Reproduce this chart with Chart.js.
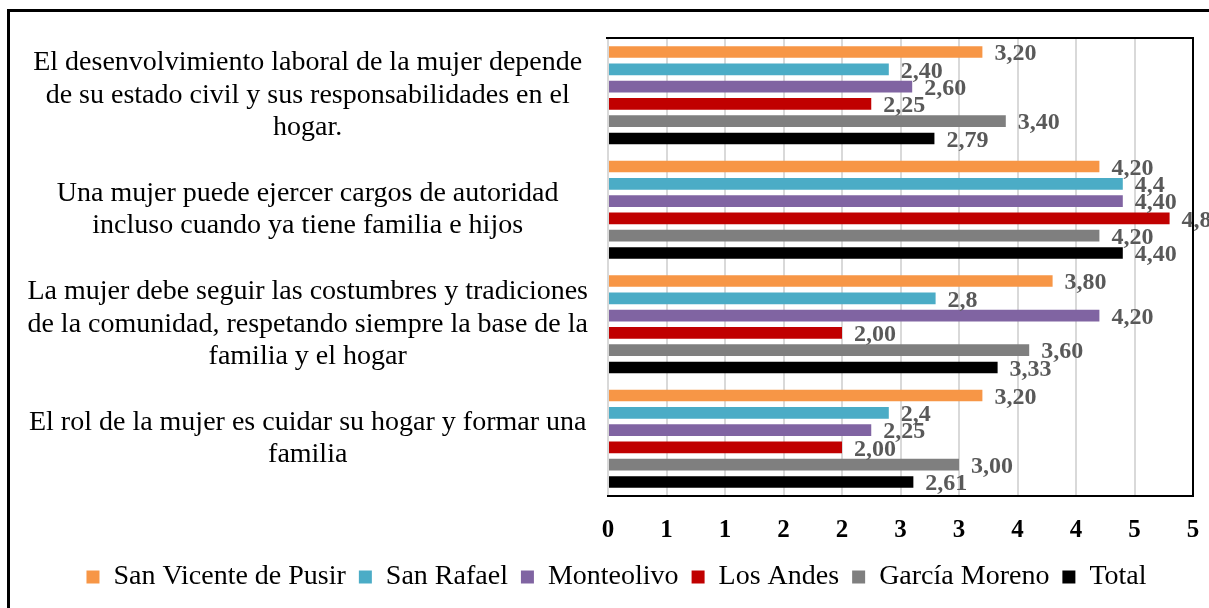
<!DOCTYPE html>
<html>
<head>
<meta charset="utf-8">
<script src="https://cdn.jsdelivr.net/npm/chart.js@4/dist/chart.umd.min.js"></script>
<style>
  html, body { margin: 0; padding: 0; background: #fff; overflow: hidden; }
  #wrap { position: relative; width: 1209px; height: 608px; }
</style>
</head>
<body>
<div id="wrap"><canvas id="grafico"></canvas></div>
<script>
// ── Datos ──
const categorias = [
    ['El desenvolvimiento laboral de la mujer depende', 'de su estado civil y sus responsabilidades en el', 'hogar.'],
    ['Una mujer puede ejercer cargos de autoridad', 'incluso cuando ya tiene familia e hijos'],
    ['La mujer debe seguir las costumbres y tradiciones', 'de la comunidad, respetando siempre la base de la', 'familia y el hogar'],
    ['El rol de la mujer es cuidar su hogar y formar una', 'familia']
];
const series = ['San Vicente de Pusir', 'San Rafael', 'Monteolivo', 'Los Andes', 'García Moreno', 'Total'];

const sanVicente   = [3.20, 4.20, 3.80, 3.20];
const sanRafael    = [2.40, 4.40, 2.80, 2.40];
const monteolivo   = [2.60, 4.40, 4.20, 2.25];
const losAndes     = [2.25, 4.80, 2.00, 2.00];
const garciaMoreno = [3.40, 4.20, 3.60, 3.00];
const total        = [2.79, 4.40, 3.33, 2.61];

// etiquetas tal como aparecen (San Rafael sin el segundo decimal en algunos)
const sanRafaelTxt = ['2,40', '4,4', '2,8', '2,4'];

const ejeXTicks = ['0', '1', '1', '2', '2', '3', '3', '4', '4', '5', '5'];

const colores = ['#F79646', '#4BACC6', '#8064A2', '#C00000', '#7F7F7F', '#000000'];

function fmt(v) { return v.toFixed(2).replace('.', ','); }

const valores = [sanVicente, sanRafael, monteolivo, losAndes, garciaMoreno, total];
const textos = valores.map(function(arr, i) {
    return i === 1 ? sanRafaelTxt : arr.map(fmt);
});

// ── Plugin: etiquetas de datos ──
const etiquetasPlugin = {
    id: 'etiquetas',
    afterDatasetsDraw: function(chart) {
        const ctx = chart.ctx;
        ctx.save();
        ctx.font = 'bold 24px "Liberation Serif"';
        ctx.fillStyle = '#595959';
        ctx.textAlign = 'left';
        ctx.textBaseline = 'middle';
        chart.data.datasets.forEach(function(ds, di) {
            chart.getDatasetMeta(di).data.forEach(function(bar, i) {
                ctx.fillText(textos[di][i], bar.x + 12, bar.y + 2);
            });
        });
        ctx.restore();
    }
};

// ── Plugin: marco del área y marco exterior ──
const marcoPlugin = {
    id: 'marco',
    afterLayout: function(chart) {
        // leyenda un poco a la derecha, como en el original
        if (chart.legend) {
            chart.legend.left += 20;
            chart.legend.right += 20;
        }
    },
    afterDraw: function(chart) {
        const a = chart.chartArea;
        const ctx = chart.ctx;
        ctx.save();
        ctx.strokeStyle = '#000';
        ctx.lineWidth = 2;
        ctx.beginPath();
        ctx.moveTo(a.left - 2, a.top);
        ctx.lineTo(a.right, a.top);
        ctx.lineTo(a.right, a.bottom);
        ctx.stroke();
        // marco exterior (solo arriba e izquierda visibles)
        ctx.lineWidth = 3;
        ctx.beginPath();
        ctx.moveTo(8.5, chart.height);
        ctx.lineTo(8.5, 10.5);
        ctx.lineTo(chart.width, 10.5);
        ctx.stroke();
        ctx.restore();
    }
};

new Chart(document.getElementById('grafico').getContext('2d'), {
    type: 'bar',
    data: {
        labels: categorias,
        datasets: series.map(function(nombre, i) {
            return {
                label: nombre,
                data: valores[i],
                backgroundColor: colores[i],
                borderColor: colores[i],
                borderWidth: 0,
                categoryPercentage: 0.905,
                barPercentage: 0.67
            };
        })
    },
    options: {
        indexAxis: 'y',
        responsive: true,
        maintainAspectRatio: false,
        animation: false,
        layout: { padding: { top: 38, right: 16, left: 0, bottom: 7 } },
        plugins: {
            legend: {
                position: 'bottom',
                labels: {
                    color: '#000',
                    font: { family: 'Liberation Serif', size: 28 },
                    boxWidth: 13,
                    boxHeight: 13,
                    padding: 13
                }
            },
            tooltip: { enabled: false }
        },
        scales: {
            x: {
                min: 0,
                max: 5,
                ticks: {
                    stepSize: 0.5,
                    autoSkip: false,
                    maxRotation: 0,
                    color: '#000',
                    padding: 20,
                    font: { family: 'Liberation Serif', size: 25, weight: 'bold' },
                    callback: function(v, i) { return ejeXTicks[i]; }
                },
                grid: { color: '#D9D9D9', lineWidth: 2, drawTicks: false },
                border: { color: '#000', width: 2 },
                afterFit: function(s) {
                    s.height = 54;
                    s.paddingLeft = 0;
                    s.paddingRight = 0;
                }
            },
            y: {
                ticks: {
                    color: '#000',
                    crossAlign: 'center',
                    padding: 20,
                    font: { family: 'Liberation Serif', size: 28, lineHeight: 1.15 }
                },
                grid: { display: false, drawTicks: false },
                border: { display: false },
                afterFit: function(s) {
                    s.width = 608;
                    s.paddingTop = 0;
                    s.paddingBottom = 0;
                }
            }
        }
    },
    plugins: [etiquetasPlugin, marcoPlugin]
});
</script>
</body>
</html>
